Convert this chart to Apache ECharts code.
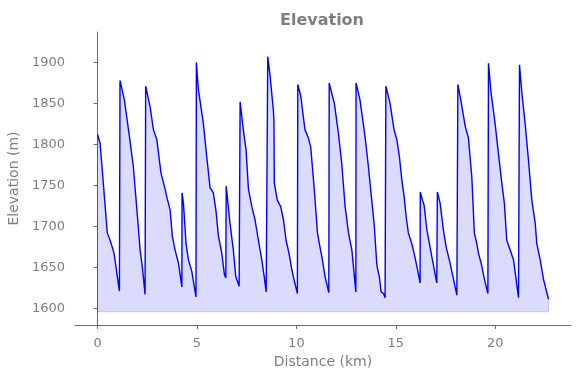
<!DOCTYPE html>
<html>
<head>
<meta charset="utf-8">
<script src="https://cdn.jsdelivr.net/npm/echarts@6/dist/echarts.min.js"></script>
<style>
  html, body { margin: 0; padding: 0; background: #fff; }
  #chart { width: 580px; height: 378px; }
</style>
</head>
<body>
<div id="chart"></div>
<script>
// distance along the route (km) and elevation (m)
let distance = [
  0.00, 0.13, 0.49, 0.66, 0.83, 1.10,
  1.13, 1.35, 1.60, 1.80, 2.02, 2.14, 2.25, 2.39,
  2.42, 2.64, 2.81, 2.98, 3.19, 3.40, 3.48, 3.65, 3.76, 3.90, 4.07, 4.24,
  4.25, 4.32, 4.45, 4.57, 4.74, 4.95,
  4.97, 5.07, 5.32, 5.49, 5.66, 5.82, 5.95, 6.08, 6.25, 6.38, 6.45,
  6.47, 6.53, 6.66, 6.83, 6.95, 7.12,
  7.17, 7.33, 7.47, 7.59, 7.76, 7.92, 8.09, 8.26, 8.38, 8.48, 8.54,
  8.56, 8.68, 8.84, 8.87, 8.89, 9.04, 9.21, 9.35, 9.48, 9.63, 9.77, 9.88, 10.05,
  10.07, 10.22, 10.43, 10.60, 10.72, 10.90, 11.06, 11.16, 11.28, 11.44, 11.63,
  11.65, 11.81, 11.91, 12.11, 12.28, 12.45, 12.62, 12.79, 12.99,
  13.00, 13.20, 13.45, 13.62, 13.79, 13.92, 14.04, 14.07, 14.09, 14.17, 14.26, 14.38, 14.46,
  14.50, 14.71, 14.91, 15.05, 15.18, 15.30, 15.42, 15.52, 15.63, 15.80, 15.92, 16.06, 16.22,
  16.23, 16.34, 16.42, 16.56, 16.69, 16.81, 17.06,
  17.09, 17.23, 17.39, 17.53, 17.73, 17.87, 18.07,
  18.12, 18.27, 18.49, 18.65, 18.82, 18.95, 19.07, 19.16, 19.29, 19.46, 19.63,
  19.66, 19.79, 19.99, 20.16, 20.33, 20.46, 20.58, 20.75, 20.92, 21.05, 21.17,
  21.22, 21.34, 21.50, 21.67, 21.84, 22.01, 22.09, 22.26, 22.43, 22.68
];
let elevation = [
  1812, 1801, 1692, 1681, 1667, 1621,
  1878, 1854, 1810, 1773, 1708, 1671, 1651, 1617,
  1871, 1846, 1818, 1806, 1765, 1745, 1736, 1720, 1688, 1671, 1655, 1626,
  1741, 1728, 1679, 1659, 1645, 1614,
  1900, 1867, 1826, 1785, 1747, 1741, 1720, 1688, 1667, 1641, 1637,
  1749, 1747, 1704, 1671, 1639, 1627,
  1852, 1818, 1793, 1745, 1724, 1708, 1683, 1659, 1639, 1620, 1619,
  1907, 1883, 1842, 1830, 1753, 1732, 1724, 1708, 1683, 1667, 1647, 1635, 1618,
  1873, 1859, 1818, 1808, 1797, 1745, 1692, 1678, 1663, 1639, 1619,
  1875, 1859, 1850, 1814, 1777, 1724, 1692, 1671, 1620,
  1875, 1854, 1810, 1773, 1732, 1700, 1655, 1650, 1647, 1639, 1620, 1618, 1613,
  1871, 1850, 1818, 1806, 1785, 1757, 1736, 1712, 1692, 1679, 1667, 1651, 1631,
  1742, 1732, 1726, 1696, 1679, 1663, 1631,
  1742, 1728, 1696, 1675, 1655, 1639, 1616,
  1873, 1854, 1822, 1808, 1761, 1692, 1679, 1667, 1655, 1635, 1618,
  1899, 1863, 1826, 1789, 1753, 1728, 1683, 1671, 1659, 1635, 1613,
  1897, 1863, 1826, 1781, 1732, 1704, 1679, 1659, 1635, 1611
];
let baseElevation = 1595.7;
let xTicks = [0, 5, 10, 15, 20];
let yTicks = [1600, 1650, 1700, 1750, 1800, 1850, 1900];

let chart = echarts.init(document.getElementById('chart'));

let textColor = '#7f7f7f';
let spineColor = '#6b6b6b';
let font = 'DejaVu Sans';

let profile = distance.map((d, i) => [d, elevation[i]]);
// outline of the filled area: left side, bottom
let fillEdge = [
  [distance[0], elevation[0]], [distance[0], baseElevation],
  [distance[distance.length - 1], baseElevation], [distance[distance.length - 1], elevation[elevation.length - 1]]
];

let option = {
  animation: false,
  backgroundColor: '#fff',
  title: {
    text: 'Elevation',
    left: 317,
    top: 8,
    textAlign: 'center',
    textStyle: { color: textColor, fontSize: 16, fontWeight: 'bold', fontFamily: font }
  },
  grid: { left: 75, right: 9, top: 32, bottom: 53, outerBoundsMode: 'none', containLabel: false },
  xAxis: {
    type: 'value',
    min: -1.134,
    max: 23.81,
    name: 'Distance (km)',
    nameLocation: 'middle',
    nameGap: 30,
    nameTextStyle: { color: textColor, fontSize: 14, fontFamily: font },
    axisLine: { show: true, lineStyle: { color: spineColor, width: 1 } },
    axisTick: { show: true, length: 4, customValues: xTicks, lineStyle: { color: spineColor } },
    axisLabel: { customValues: xTicks, color: textColor, fontSize: 13, fontFamily: font, margin: 12 },
    splitLine: { show: false }
  },
  yAxis: {
    type: 'value',
    min: 1579.6,
    max: 1937.1,
    name: 'Elevation (m)',
    nameLocation: 'middle',
    nameGap: 50,
    nameTextStyle: { color: textColor, fontSize: 14, fontFamily: font },
    axisLine: { show: true, lineStyle: { color: spineColor, width: 1 } },
    axisTick: { show: true, length: 4, customValues: yTicks, lineStyle: { color: spineColor } },
    axisLabel: {
      customValues: yTicks, color: textColor, fontSize: 13, fontFamily: font, margin: 10,
      formatter: v => String(v)
    },
    splitLine: { show: false }
  },
  series: [
    {
      name: 'edge',
      type: 'line',
      data: fillEdge,
      symbol: 'none',
      silent: true,
      lineStyle: { color: 'rgba(0,0,255,0.18)', width: 1 }
    },
    {
      name: 'elevation',
      type: 'line',
      data: profile,
      symbol: 'none',
      lineStyle: { color: '#0000ff', width: 1.4 },
      areaStyle: { color: 'rgba(0,0,255,0.2)', origin: baseElevation }
    }
  ]
};

chart.setOption(option);
</script>
</body>
</html>
